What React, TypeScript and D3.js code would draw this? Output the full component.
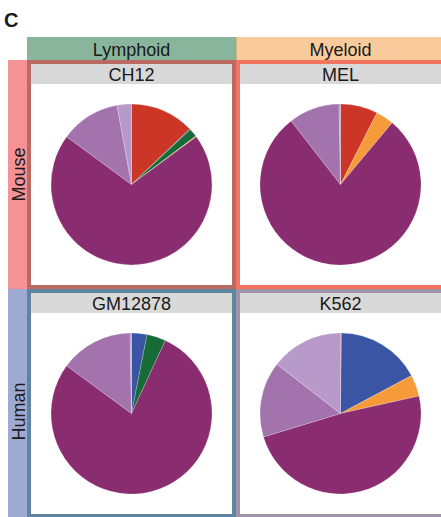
import React from "react";
import * as d3 from "d3";

// Segment order (clockwise from 12 o'clock) and their fills
const segmentKeys = ["S1", "S2", "S3", "S4", "S5", "S6", "S7"];
const segmentColors = ["#cc3627", "#3a55a4", "#176b37", "#f59b3a", "#8a2c70", "#a373ae", "#b89aca"];

// Column / row facets
const lineages = ["Lymphoid", "Myeloid"];
const lineageColors = ["#88b59b", "#f9ca9b"];
const species = ["Mouse", "Human"];
const speciesColors = ["#f59296", "#9eaad4"];

// Cell lines per facet cell: [row][col]
const cellLines = [
  ["CH12", "MEL"],
  ["GM12878", "K562"],
];
const cellBorderColors = [
  ["#bb6a61", "#f27562"],
  ["#5f849e", "#9e93a8"],
];

// Percentage of each segment per cell line
const ch12Values = [12.9, 0.15, 1.7, 0.15, 70.3, 12.0, 2.9];
const melValues = [7.5, 0, 0, 3.6, 78.4, 10.2, 0.3];
const gm12878Values = [0, 3.1, 3.8, 0, 78.2, 14.6, 0.3];
const k562Values = [0.2, 17.0, 0, 4.3, 48.8, 15.2, 14.5];

const valuesByCell = [
  [ch12Values, melValues],
  [gm12878Values, k562Values],
];

const W = 441;
const H = 517;
const FONT = "'Liberation Sans', Arial, Helvetica, sans-serif";

export default function App() {
  const left = 27;
  const top = 60;
  const colW = 209;
  const rowH = 229;
  const border = 4;
  const stripH = 20;
  const radius = 80.5;

  const x = d3.scaleBand<number>().domain([0, 1]).range([left, left + 2 * colW]);
  const y = d3.scaleBand<number>().domain([0, 1]).range([top, top + 2 * rowH]);

  const pie = d3
    .pie<number>()
    .sort(null)
    .value((d) => d)
    .startAngle(0)
    .endAngle(2 * Math.PI);
  const arc = d3.arc<d3.PieArcDatum<number>>().innerRadius(0).outerRadius(radius);
  const colorScale = d3.scaleOrdinal<string, string>().domain(segmentKeys).range(segmentColors);

  const rowLabelY = [y(0)! + rowH / 2, y(1)! + rowH / 2 + 8];

  return (
    <svg
      width={W}
      height={H}
      style={{ position: "absolute", left: 0, top: 0, background: "#fff" }}
      fontFamily={FONT}
    >
      <text x={4} y={27} fontSize={20} fontWeight="bold" fill="#1a1a1a">
        C
      </text>

      {/* column strips */}
      {lineages.map((name, c) => (
        <g key={name}>
          <rect x={x(c)!} y={37} width={colW} height={top - 37} fill={lineageColors[c]} />
          <text
            x={x(c)! + colW / 2}
            y={(37 + top) / 2 + 7}
            fontSize={18}
            textAnchor="middle"
            fill="#1a1a1a"
          >
            {name}
          </text>
        </g>
      ))}
      <line x1={x(1)!} x2={x(1)!} y1={37} y2={top} stroke="#a7a36a" strokeWidth={1} />

      {/* row strips */}
      {species.map((name, r) => (
        <g key={name}>
          <rect x={8} y={y(r)!} width={left - 8} height={rowH} fill={speciesColors[r]} />
          <text
            transform={`translate(${(8 + left) / 2 + 7},${rowLabelY[r]}) rotate(-90)`}
            fontSize={18}
            textAnchor="middle"
            fill="#1a1a1a"
          >
            {name}
          </text>
        </g>
      ))}

      {/* panels */}
      {cellLines.map((row, r) =>
        row.map((name, c) => {
          const px = x(c)!;
          const py = y(r)!;
          const innerX = px + border;
          const innerY = py + border;
          const innerW = colW - 2 * border;
          const innerH = rowH - 2 * border;
          const cx = innerX + innerW / 2;
          const cy = innerY + stripH + (innerH - stripH) / 2;
          const arcs = pie(valuesByCell[r][c]);
          return (
            <g key={name}>
              <rect x={px} y={py} width={colW} height={rowH} fill="#fff" />
              <rect x={innerX} y={innerY} width={innerW} height={stripH} fill="#d9d9d9" />
              <text
                x={cx}
                y={innerY + stripH / 2 + 7}
                fontSize={18}
                textAnchor="middle"
                fill="#1a1a1a"
              >
                {name}
              </text>
              <g transform={`translate(${cx},${cy})`}>
                {arcs.map((a, i) =>
                  a.value > 0 ? (
                    <path
                      key={segmentKeys[i]}
                      d={arc(a)!}
                      fill={colorScale(segmentKeys[i])}
                      stroke="#ffffff"
                      strokeOpacity={0.5}
                      strokeWidth={0.4}
                    />
                  ) : null
                )}
              </g>
              <rect
                x={px + border / 2}
                y={py + border / 2}
                width={colW - border}
                height={rowH - border}
                fill="none"
                stroke={cellBorderColors[r][c]}
                strokeWidth={border}
              />
            </g>
          );
        })
      )}
    </svg>
  );
}
